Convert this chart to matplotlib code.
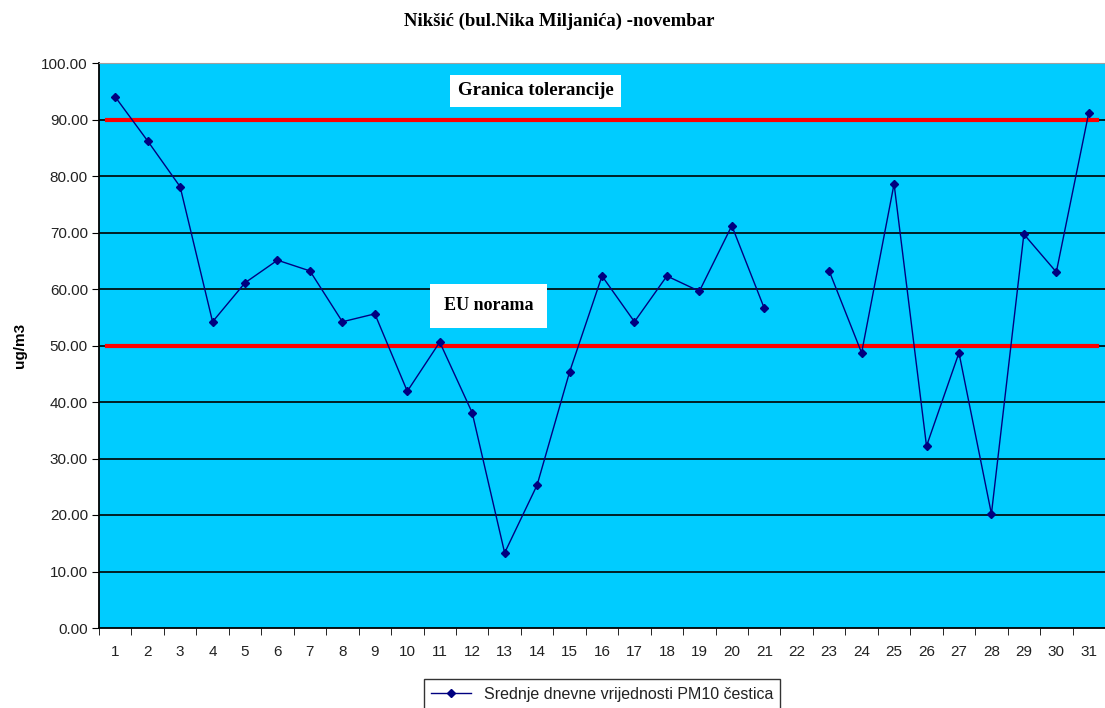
import matplotlib
matplotlib.use("Agg")
import matplotlib.pyplot as plt
import numpy as np

days = list(range(1, 32))
pm10 = [94.0, 86.2, 78.1, 54.2, 61.1, 65.1, 63.2, 54.2, 55.6, 41.9,
        50.6, 38.1, 13.3, 25.3, 45.3, 62.3, 54.2, 62.3, 59.6, 71.2,
        56.6, None, 63.2, 48.7, 78.6, 32.2, 48.7, 20.2, 69.7, 63.0, 91.2]
tolerance_limit = 90
eu_norm = 50
title = "Nikšić (bul.Nika Miljanića) -novembar"
ylabel = "ug/m3"
legend_label = "Srednje dnevne vrijednosti PM10 čestica"

W, H = 1105, 708
fig = plt.figure(figsize=(W / 100, H / 100), dpi=100)
ax = fig.add_axes([99 / W, 1 - 628 / H, (1105 - 99) / W, (628 - 63) / H])
ax.set_facecolor("#00CCFF")

ax.set_xlim(0.5, 31.5)
ax.set_ylim(0, 100)
ax.set_yticks(np.arange(0, 101, 10))
ax.set_yticklabels([f"{v:.2f}" for v in np.arange(0, 101, 10)],
                   fontsize=11, family="Liberation Sans", color="#222222")
ax.set_xticks(days)
ax.set_xticklabels([str(d) for d in days], fontsize=11, family="Liberation Sans",
                   color="#222222")
ax.tick_params(axis="x", length=0, pad=12)
ax.set_xticks(np.arange(0.5, 32, 1), minor=True)
ax.tick_params(axis="x", which="minor", length=5, direction="out", color="black")
ax.tick_params(axis="y", length=5, direction="out", color="black", pad=3)

for v in range(10, 100, 10):
    ax.axhline(v, color="black", lw=1.2, zorder=1)

ax.spines["left"].set_color("black")
ax.spines["bottom"].set_color("black")
ax.spines["left"].set_linewidth(1.3)
ax.spines["bottom"].set_linewidth(1.3)
ax.spines["top"].set_color("#A0A0A0")
ax.spines["right"].set_visible(False)

ax.plot([0.75, 31.25], [tolerance_limit] * 2, color="#FF0000", lw=3, zorder=2)
ax.plot([0.75, 31.25], [eu_norm] * 2, color="#FF0000", lw=3, zorder=2)

y = np.array([np.nan if v is None else v for v in pm10], dtype=float)
line, = ax.plot(days, y, color="#000080", lw=1.0, marker="D", markersize=4.5,
                markerfacecolor="#000080", markeredgecolor="#000080", zorder=3,
                label=legend_label)

ax.text(13.95, 95.1, "Granica tolerancije", ha="center", va="center",
        fontsize=13.5, fontweight="bold", family="Liberation Serif",
        bbox=dict(boxstyle="square,pad=0.4", facecolor="white", edgecolor="none"), zorder=4)
ax.text(12.5, 57.0, "EU norama", ha="center", va="center",
        fontsize=13, fontweight="bold", family="Liberation Serif",
        bbox=dict(boxstyle="square,pad=0.75", facecolor="white", edgecolor="none"), zorder=4)

fig.text(559 / W, 1 - 21 / H, title, ha="center", va="center",
         fontsize=13.5, fontweight="bold", family="Liberation Serif")
fig.text(20 / W, 1 - 345 / H, ylabel, ha="center", va="center", rotation=90,
         fontsize=11, fontweight="bold", family="Liberation Sans")

leg = fig.legend(handles=[line], loc="center", bbox_to_anchor=(602 / W, 1 - 694 / H),
                 frameon=True, fancybox=False, edgecolor="black",
                 prop={"family": "Liberation Sans", "size": 11.5},
                 handlelength=2.5, borderpad=0.45, markerscale=0.8)
leg.get_frame().set_linewidth(1.0)
for t in leg.get_texts():
    t.set_color("#222222")

fig.savefig("out.png", dpi=100)
